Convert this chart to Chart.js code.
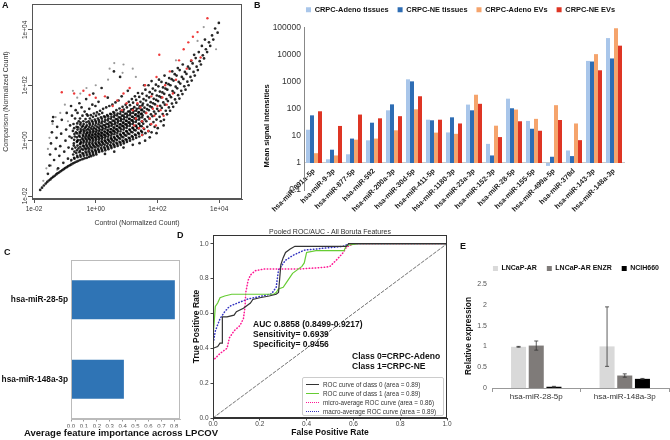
<!DOCTYPE html>
<html>
<head>
<meta charset="utf-8">
<script src="https://cdn.jsdelivr.net/npm/chart.js@4.4.1/dist/chart.umd.min.js"></script>
<style>
  body { margin: 0; width: 670px; height: 440px; background: #fff; position: relative; overflow: hidden;
         font-family: "Liberation Sans", Arial, sans-serif; color: #111; }
  canvas { position: absolute; }
  .t { position: absolute; white-space: nowrap; line-height: 1; }
  .b { font-weight: bold; }
  #legD { position: absolute; left: 302px; top: 377px; width: 140px; height: 37px; border: 1px solid #ccc;
          border-radius: 2px; background: rgba(255,255,255,0.85); }
  #legD .row { position: absolute; left: 0; width: 140px; height: 9px; font-size: 6.3px; line-height: 9px; color: #333; white-space: nowrap; }
  #legD .ln { position: absolute; left: 3px; top: 4px; width: 13px; height: 0; }
  #legD .tx { position: absolute; left: 20px; top: 0; }
</style>
</head>
<body>
<canvas id="cA" width="250" height="232" style="left:0;top:0"></canvas>
<canvas id="cB" width="448" height="215" style="left:222px;top:0"></canvas>
<canvas id="cC" width="242" height="200" style="left:0;top:240px"></canvas>
<canvas id="cD" width="280" height="218" style="left:180px;top:222px"></canvas>
<canvas id="cE" width="215" height="160" style="left:455px;top:255px"></canvas>

<div class="t b" style="left:2px;top:1px;font-size:9px">A</div>
<div class="t b" style="left:254px;top:1px;font-size:9px">B</div>
<div class="t b" style="left:4px;top:248px;font-size:9px">C</div>
<div class="t b" style="left:177px;top:231px;font-size:9px">D</div>
<div class="t b" style="left:460px;top:242px;font-size:9px">E</div>

<div class="t" style="left:330px;top:227.5px;font-size:7px;color:#333;transform:translateX(-50%)">Pooled ROC/AUC - All Boruta Features</div>
<div class="t b" style="left:253px;top:319.5px;font-size:8.5px">AUC 0.8858 (0.8499-0.9217)</div>
<div class="t b" style="left:253px;top:329.5px;font-size:8.5px">Sensitivity= 0.6939</div>
<div class="t b" style="left:253px;top:339.5px;font-size:8.5px">Specificity= 0.9456</div>
<div class="t b" style="left:352px;top:351.5px;font-size:8.5px">Class 0=CRPC-Adeno</div>
<div class="t b" style="left:352px;top:361.5px;font-size:8.5px">Class 1=CRPC-NE</div>

<div id="legD">
  <div class="row" style="top:1.5px"><span class="ln" style="border-top:1.2px solid #333"></span><span class="tx">ROC curve of class 0 (area = 0.89)</span></div>
  <div class="row" style="top:10.5px"><span class="ln" style="border-top:1.2px solid #66cc33"></span><span class="tx">ROC curve of class 1 (area = 0.89)</span></div>
  <div class="row" style="top:19.5px"><span class="ln" style="border-top:1.6px dotted #ff1493"></span><span class="tx">micro-average ROC curve (area = 0.86)</span></div>
  <div class="row" style="top:28.5px"><span class="ln" style="border-top:1.6px dotted #3333c0"></span><span class="tx">macro-average ROC curve (area = 0.89)</span></div>
</div>

<script>
// ---------- A: scatter, log10(control), log10(comparison) ----------
const aTickVals = [0.01, 1, 100, 10000];
const aTickLabels = ['1e-02', '1e+00', '1e+02', '1e+04'];

const blackPts = [
  [-1.80,-1.78],[-1.74,-1.70],[-1.68,-1.62],[-1.62,-1.55],[-1.57,-1.49],[-1.52,-1.44],[-1.47,-1.40],[-1.43,-1.35],
  [-1.38,-1.31],[-1.33,-1.27],[-1.28,-1.22],[-1.24,-1.18],[-1.19,-1.15],[-1.14,-1.11],[-1.09,-1.07],[-1.04,-1.03],
  [-0.99,-0.99],[-0.94,-0.96],[-0.89,-0.92],[-0.84,-0.89],[-0.79,-0.86],[-0.73,-0.82],[-0.68,-0.79],[-0.62,-0.76],
  [-0.56,-0.73],[-0.50,-0.70],[-0.43,-0.67],[-0.36,-0.64],[-0.29,-0.62],[-0.22,-0.59],[-0.15,-0.56],[-0.07,-0.53],[0.02,-0.50],
  [-1.55,-1.20],[-1.50,-0.90],[-1.48,-0.50],[-1.45,-0.10],[-1.42,0.30],[-1.40,0.70],[-1.38,0.85],[-1.35,-0.70],
  [-1.30,-0.30],[-1.27,0.10],[-1.25,0.50],[-1.22,-1.00],[-1.18,-0.55],[-1.15,-0.20],[-1.12,0.25],[-1.10,0.75],
  [-1.05,-0.80],[-1.02,-0.40],[-0.98,0.00],[-0.96,0.40],[-0.94,1.00],[-0.90,-0.65],[-0.88,-0.25],[-0.85,0.15],
  [-0.83,0.55],[-0.80,1.25],
  [-0.79,-0.70],[-0.73,-0.50],[-0.76,-0.30],[-0.71,-0.10],[-0.78,0.10],[-0.74,0.35],[-0.72,0.60],[-0.77,0.90],
  [-0.69,-0.65],[-0.63,-0.45],[-0.66,-0.25],[-0.61,-0.05],[-0.68,0.15],[-0.64,0.30],[-0.62,0.50],[-0.67,0.80],[-0.65,1.10],
  [-0.59,-0.60],[-0.53,-0.42],[-0.56,-0.28],[-0.51,-0.12],[-0.58,0.02],[-0.54,0.18],[-0.52,0.32],[-0.57,0.48],[-0.55,0.70],[-0.59,1.00],[-0.53,1.35],
  [-0.49,-0.58],[-0.43,-0.45],[-0.46,-0.30],[-0.41,-0.18],[-0.48,-0.05],[-0.44,0.08],[-0.42,0.20],[-0.47,0.35],[-0.45,0.50],[-0.49,0.65],[-0.43,0.90],[-0.46,1.20],
  [-0.39,-0.55],[-0.33,-0.40],[-0.36,-0.27],[-0.31,-0.14],[-0.38,-0.02],[-0.34,0.10],[-0.32,0.22],[-0.37,0.34],[-0.35,0.46],[-0.39,0.60],[-0.33,0.78],[-0.36,1.05],[-0.31,1.50],
  [-0.29,-0.52],[-0.23,-0.38],[-0.26,-0.25],[-0.21,-0.12],[-0.28,0.00],[-0.24,0.10],[-0.22,0.20],[-0.27,0.30],[-0.25,0.42],[-0.29,0.55],[-0.23,0.70],[-0.26,0.90],[-0.21,1.15],
  [-0.19,-0.50],[-0.13,-0.36],[-0.16,-0.23],[-0.11,-0.10],[-0.18,0.02],[-0.14,0.12],[-0.12,0.22],[-0.17,0.32],[-0.15,0.44],[-0.19,0.57],[-0.13,0.72],[-0.16,0.92],[-0.11,1.30],
  [-0.09,-0.47],[-0.03,-0.33],[-0.06,-0.20],[-0.01,-0.08],[-0.08,0.04],[-0.04,0.14],[-0.02,0.24],[-0.07,0.34],[-0.05,0.46],[-0.09,0.60],[-0.03,0.76],[-0.06,0.98],[-0.01,1.25],[-0.08,1.70],
  [0.01,-0.44],[0.07,-0.30],[0.04,-0.17],[0.09,-0.05],[0.02,0.06],[0.06,0.16],[0.08,0.26],[0.03,0.37],[0.05,0.50],[0.01,0.64],[0.07,0.80],[0.04,1.02],[0.09,1.40],
  [0.11,-0.41],[0.17,-0.27],[0.14,-0.14],[0.19,-0.02],[0.12,0.09],[0.16,0.19],[0.18,0.29],[0.13,0.40],[0.15,0.53],[0.11,0.67],[0.17,0.84],[0.14,1.08],[0.19,1.90],
  [0.21,-0.38],[0.27,-0.24],[0.24,-0.11],[0.29,0.01],[0.22,0.12],[0.26,0.22],[0.28,0.33],[0.23,0.44],[0.25,0.56],[0.21,0.70],[0.27,0.88],[0.24,1.15],
  [0.31,-0.35],[0.37,-0.20],[0.34,-0.07],[0.39,0.05],[0.32,0.16],[0.36,0.27],[0.38,0.38],[0.33,0.49],[0.35,0.61],[0.31,0.75],[0.37,0.92],[0.34,1.20],[0.39,1.55],
  [0.41,-0.31],[0.47,-0.16],[0.44,-0.03],[0.49,0.09],[0.42,0.20],[0.46,0.31],[0.48,0.42],[0.43,0.54],[0.45,0.66],[0.41,0.80],[0.47,0.97],[0.44,1.25],
  [0.51,-0.27],[0.57,-0.12],[0.54,0.01],[0.59,0.13],[0.52,0.25],[0.56,0.36],[0.58,0.47],[0.53,0.59],[0.55,0.72],[0.51,0.86],[0.57,1.03],[0.54,1.30],[0.59,2.50],
  [0.61,-0.23],[0.67,-0.08],[0.64,0.05],[0.69,0.18],[0.62,0.30],[0.66,0.41],[0.68,0.53],[0.63,0.65],[0.65,0.78],[0.61,0.92],[0.67,1.10],[0.64,1.38],
  [0.71,-0.19],[0.77,-0.04],[0.74,0.10],[0.79,0.23],[0.72,0.35],[0.76,0.47],[0.78,0.59],[0.73,0.71],[0.75,0.84],[0.71,0.98],[0.77,1.16],[0.74,1.45],[0.79,2.30],
  [0.81,-0.15],[0.87,0.00],[0.84,0.15],[0.89,0.28],[0.82,0.41],[0.86,0.53],[0.88,0.65],[0.83,0.77],[0.85,0.90],[0.81,1.05],[0.87,1.22],[0.84,1.60],
  [0.91,-0.10],[0.97,0.05],[0.94,0.20],[0.99,0.34],[0.92,0.47],[0.96,0.59],[0.98,0.71],[0.93,0.84],[0.95,0.97],[0.91,1.12],[0.97,1.30],
  [1.01,-0.05],[1.07,0.10],[1.04,0.26],[1.09,0.40],[1.02,0.53],[1.06,0.65],[1.08,0.78],[1.03,0.91],[1.05,1.05],[1.01,1.20],[1.07,1.40],[1.04,1.80],
  [1.11,0.00],[1.17,0.16],[1.14,0.32],[1.19,0.46],[1.12,0.60],[1.16,0.73],[1.18,0.86],[1.13,0.99],[1.15,1.13],[1.11,1.28],[1.17,1.50],
  [1.21,0.05],[1.27,0.22],[1.24,0.39],[1.29,0.53],[1.22,0.67],[1.26,0.80],[1.28,0.93],[1.23,1.07],[1.25,1.21],[1.21,1.37],[1.27,1.60],
  [1.31,0.10],[1.37,0.28],[1.34,0.46],[1.39,0.61],[1.32,0.75],[1.36,0.88],[1.38,1.01],[1.33,1.15],[1.35,1.30],[1.31,1.47],[1.37,1.72],
  [1.41,0.15],[1.47,0.35],[1.44,0.53],[1.49,0.69],[1.42,0.83],[1.46,0.96],[1.48,1.10],[1.43,1.24],[1.45,1.40],[1.41,1.58],
  [1.51,0.21],[1.57,0.42],[1.54,0.61],[1.59,0.77],[1.52,0.91],[1.56,1.05],[1.58,1.19],[1.53,1.34],[1.55,1.50],[1.51,1.70],[1.57,2.00],
  [1.61,0.27],[1.67,0.50],[1.64,0.70],[1.69,0.86],[1.62,1.00],[1.66,1.14],[1.68,1.29],[1.63,1.45],[1.65,1.62],[1.61,1.84],
  [1.71,0.34],[1.77,0.58],[1.74,0.79],[1.79,0.95],[1.72,1.10],[1.76,1.24],[1.78,1.39],[1.73,1.56],[1.75,1.75],[1.71,2.00],
  [1.81,0.30],[1.87,0.67],[1.84,0.88],[1.89,1.05],[1.82,1.20],[1.86,1.35],[1.88,1.51],[1.83,1.68],[1.85,1.88],[1.81,2.15],
  [1.91,0.50],[1.97,0.76],[1.94,0.97],[1.99,1.15],[1.92,1.31],[1.96,1.47],[1.98,1.63],[1.93,1.81],[1.95,2.02],
  [2.01,0.45],[2.07,0.86],[2.04,1.07],[2.09,1.26],[2.02,1.43],[2.06,1.60],[2.08,1.77],[2.03,1.96],[2.05,2.20],
  [2.11,0.70],[2.17,0.96],[2.14,1.18],[2.19,1.38],[2.12,1.56],[2.16,1.74],[2.18,1.92],[2.13,2.12],
  [2.21,0.75],[2.27,1.08],[2.24,1.30],[2.29,1.50],[2.22,1.69],[2.26,1.88],[2.28,2.08],[2.23,2.35],
  [2.31,0.95],[2.37,1.20],[2.34,1.43],[2.39,1.64],[2.32,1.84],[2.36,2.04],[2.38,2.26],
  [2.41,1.08],[2.47,1.34],[2.44,1.57],[2.49,1.79],[2.42,2.00],[2.46,2.22],[2.48,2.50],
  [2.51,1.22],[2.57,1.49],[2.54,1.73],[2.59,1.95],[2.52,2.17],[2.56,2.40],
  [2.61,1.37],[2.67,1.64],[2.64,1.89],[2.69,2.12],[2.62,2.35],[2.66,2.62],
  [2.71,1.52],[2.77,1.80],[2.74,2.06],[2.79,2.30],[2.72,2.55],
  [2.81,1.68],[2.87,1.96],[2.84,2.23],[2.89,2.48],[2.82,2.75],
  [2.91,1.84],[2.97,2.13],[2.94,2.41],[2.99,2.67],
  [3.01,2.00],[3.07,2.30],[3.04,2.60],[3.09,2.88],
  [3.11,2.17],[3.17,2.48],[3.14,2.79],[3.19,3.10],
  [3.21,2.35],[3.27,2.67],[3.24,2.98],
  [3.31,2.55],[3.37,2.87],[3.34,3.20],
  [3.41,2.75],[3.47,3.08],[3.44,3.42],
  [3.51,2.97],[3.57,3.30],[3.54,3.65],
  [3.61,3.20],[3.67,3.55],[3.71,3.42],[3.77,3.80],[3.81,3.65],[3.87,4.05],[3.95,3.90],[3.99,4.25],
  [1.20,-0.15],[1.42,-0.09],[1.60,0.00],[1.75,0.12],[1.97,0.27],[2.20,0.55],[0.90,-0.25],[0.60,-0.40],[0.30,-0.48],
  // denser core, between the points above
  [-0.70,-0.62],[-0.69,-0.40],[-0.71,-0.18],[-0.70,0.03],[-0.69,0.24],[-0.70,0.45],
  [-0.60,-0.55],[-0.61,-0.35],[-0.59,-0.18],[-0.60,-0.02],[-0.61,0.12],[-0.60,0.26],[-0.59,0.40],[-0.60,0.62],
  [-0.50,-0.52],[-0.51,-0.37],[-0.50,-0.22],[-0.49,-0.10],[-0.50,0.02],[-0.51,0.14],[-0.50,0.27],[-0.49,0.42],[-0.50,0.58],[-0.51,0.80],
  [-0.40,-0.48],[-0.41,-0.33],[-0.39,-0.20],[-0.40,-0.08],[-0.41,0.04],[-0.40,0.16],[-0.39,0.28],[-0.40,0.40],[-0.41,0.53],[-0.40,0.70],
  [-0.30,-0.45],[-0.31,-0.31],[-0.29,-0.19],[-0.30,-0.07],[-0.31,0.05],[-0.30,0.16],[-0.29,0.27],[-0.30,0.38],[-0.31,0.50],[-0.30,0.66],[-0.29,0.95],
  [-0.20,-0.44],[-0.21,-0.30],[-0.19,-0.18],[-0.20,-0.06],[-0.21,0.06],[-0.20,0.16],[-0.19,0.26],[-0.20,0.37],[-0.21,0.49],[-0.20,0.63],[-0.19,0.80],
  [-0.10,-0.41],[-0.11,-0.27],[-0.09,-0.15],[-0.10,-0.03],[-0.11,0.09],[-0.10,0.19],[-0.09,0.29],[-0.10,0.40],[-0.11,0.52],[-0.10,0.67],[-0.09,0.86],
  [0.00,-0.38],[-0.01,-0.24],[0.01,-0.12],[0.00,0.00],[-0.01,0.11],[0.00,0.21],[0.01,0.31],[0.00,0.42],[-0.01,0.55],[0.00,0.70],[0.01,0.90],
  [0.10,-0.35],[0.09,-0.21],[0.11,-0.09],[0.10,0.03],[0.09,0.14],[0.10,0.24],[0.11,0.34],[0.10,0.46],[0.09,0.59],[0.10,0.74],[0.11,0.95],
  [0.20,-0.32],[0.19,-0.18],[0.21,-0.06],[0.20,0.06],[0.19,0.17],[0.20,0.27],[0.21,0.38],[0.20,0.50],[0.19,0.63],[0.20,0.79],[0.21,1.00],
  [0.30,-0.29],[0.29,-0.15],[0.31,-0.02],[0.30,0.10],[0.29,0.21],[0.30,0.32],[0.31,0.43],[0.30,0.55],[0.29,0.68],[0.30,0.84],
  [0.40,-0.25],[0.39,-0.11],[0.41,0.02],[0.40,0.14],[0.39,0.25],[0.40,0.36],[0.41,0.48],[0.40,0.60],[0.39,0.73],[0.40,0.88],
  [0.50,-0.21],[0.49,-0.07],[0.51,0.06],[0.50,0.18],[0.49,0.30],[0.50,0.41],[0.51,0.53],[0.50,0.65],[0.49,0.79],[0.50,0.95],
  [0.60,-0.17],[0.59,-0.03],[0.61,0.10],[0.60,0.23],[0.59,0.35],[0.60,0.47],[0.61,0.59],[0.60,0.71],[0.59,0.85],[0.60,1.00],
  [0.70,-0.12],[0.69,0.02],[0.71,0.15],[0.70,0.28],[0.69,0.41],[0.70,0.53],[0.71,0.65],[0.70,0.77],[0.69,0.91],
  [0.80,-0.08],[0.79,0.07],[0.81,0.20],[0.80,0.33],[0.79,0.47],[0.80,0.59],[0.81,0.71],[0.80,0.83],[0.79,0.97],
  [0.90,-0.03],[0.89,0.12],[0.91,0.26],[0.90,0.40],[0.89,0.53],[0.90,0.65],[0.91,0.77],[0.90,0.90],[0.89,1.04],
  [1.00,0.02],[0.99,0.18],[1.01,0.33],[1.00,0.46],[0.99,0.59],[1.00,0.71],[1.01,0.84],[1.00,0.98],
  [1.10,0.08],[1.09,0.24],[1.11,0.39],[1.10,0.53],[1.09,0.66],[1.10,0.79],[1.11,0.92],[1.10,1.06],
  [1.20,0.13],[1.19,0.30],[1.21,0.46],[1.20,0.60],[1.19,0.73],[1.20,0.86],[1.21,1.00],[1.20,1.14],
  [1.30,0.19],[1.29,0.37],[1.31,0.53],[1.30,0.68],[1.29,0.81],[1.30,0.95],[1.31,1.08],
  [1.40,0.25],[1.39,0.44],[1.41,0.61],[1.40,0.76],[1.39,0.90],[1.40,1.03],[1.41,1.17],
  [1.50,0.31],[1.49,0.52],[1.51,0.69],[1.50,0.84],[1.49,0.98],[1.50,1.12],[1.51,1.27]
];

const greyPts = [
  [-1.60,-1.00],[-1.55,-0.30],[-1.50,0.10],[-1.45,-0.90],[-1.40,0.60],[-1.30,0.85],[-1.15,1.00],[-1.00,1.30],
  [-0.90,0.70],[-0.74,1.80],[-0.60,1.55],[-0.50,1.70],[-0.30,1.90],[0.00,2.00],[0.40,2.20],[0.45,2.60],
  [0.60,2.80],[0.87,2.45],[0.90,2.75],[1.20,2.60],[1.30,2.30],[2.60,2.90],[3.30,3.60],[3.50,4.10],
  [3.90,3.30],[-0.80,-0.75],[-1.70,-1.45],[-1.25,-1.05]
];

const redPts = [
  [3.62,4.42],[3.30,3.92],[3.15,3.75],[3.00,3.55],[2.85,3.30],[2.95,2.60],[2.70,2.90],[3.40,3.00],
  [2.60,2.20],[2.40,2.50],[2.06,3.10],[1.97,2.30],[2.16,1.56],[2.30,1.30],[2.10,1.10],[1.90,0.90],
  [1.80,0.60],[1.64,1.00],[1.50,0.70],[1.40,0.45],[1.70,0.35],[1.20,1.10],[1.30,0.80],[0.70,1.45],
  [0.90,1.70],[1.10,1.90],[-0.40,1.80],[-0.20,1.65],[0.00,1.55],[-0.70,1.70],[-1.10,1.75],[0.30,1.60],
  [1.60,2.00],[1.80,1.60],[2.00,1.25],[2.50,1.70],[1.50,0.20],[1.25,0.55],[2.20,0.90],[3.10,2.90],
  [1.45,1.20],[1.75,0.80],[1.85,1.15],[1.35,1.35],[2.25,2.00],[0.55,1.25],[0.85,1.10],[1.00,1.35],
  [1.55,0.45],[1.95,0.55]
];

// ---------- B: mean signal intensities ----------
const bMirnas = ['hsa-miR-891a-5p', 'hsa-miR-9-3p', 'hsa-miR-877-5p', 'hsa-miR-592', 'hsa-miR-200a-3p',
  'hsa-miR-30d-5p', 'hsa-miR-411-5p', 'hsa-miR-1180-3p', 'hsa-miR-23a-3p', 'hsa-miR-152-3p',
  'hsa-miR-28-5p', 'hsa-miR-155-5p', 'hsa-miR-499a-5p', 'hsa-miR-378d', 'hsa-miR-143-3p', 'hsa-miR-148a-3p'];
const adenoTissues = [17, 1.37, 2.1, 6.9, 89, 1250, 40, 13.5, 145, 5.1, 240, 36, 0.78, 2.9, 6000, 42000];
const neTissues    = [58, 3.1, 8, 31, 148, 1050, 38, 49, 89, 1.9, 106, 18.5, 1.7, 1.8, 5700, 7400];
const adenoEVs     = [2.3, 1.9, 7.3, 8, 16.2, 97, 13.3, 12, 336, 24, 95, 43, 138, 29, 10700, 97000];
const neEVs        = [82, 23.5, 62, 45, 54, 295, 40, 29, 155, 9.1, 35, 15.6, 39, 7, 2700, 22000];
const bTicks = [0.1, 1, 10, 100, 1000, 10000, 100000];
const bTickLabels = ['0.1', '1', '10', '100', '1000', '10000', '100000'];

// ---------- C: feature importance ----------
const cFeatures = ['hsa-miR-28-5p', 'hsa-miR-148a-3p'];
const cImportance = [0.805, 0.41];
const cTicks = [0, 0.1, 0.2, 0.3, 0.4, 0.5, 0.6, 0.7, 0.8];

// ---------- D: ROC curves ----------
const class0Fpr = [0, 0, 0.02, 0.03, 0.04, 0.04, 0.06, 0.09, 0.10, 0.13, 0.14, 0.16, 0.17, 0.20, 0.24, 0.27, 0.28, 0.285, 0.29, 0.30, 0.31, 0.33, 0.35, 0.57, 0.58, 1.0];
const class0Tpr = [0, 0.40, 0.41, 0.43, 0.43, 0.58, 0.58, 0.59, 0.61, 0.63, 0.64, 0.66, 0.68, 0.69, 0.70, 0.71, 0.72, 0.80, 0.88, 0.92, 0.95, 0.97, 0.985, 0.985, 1.0, 1.0];
const class1Fpr = [0, 0, 0.005, 0.01, 0.02, 0.03, 0.05, 0.08, 0.26, 0.27, 0.28, 0.30, 0.32, 0.34, 0.36, 0.38, 0.39, 0.40, 0.44, 0.56, 0.57, 0.62, 1.0];
const class1Tpr = [0, 0.47, 0.55, 0.64, 0.66, 0.69, 0.70, 0.71, 0.71, 0.72, 0.74, 0.75, 0.79, 0.83, 0.85, 0.87, 0.89, 0.95, 0.96, 0.96, 0.99, 1.0, 1.0];
const microFpr = [0, 0, 0.03, 0.06, 0.07, 0.09, 0.115, 0.13, 0.137, 0.14, 0.15, 0.16, 0.18, 0.22, 0.37, 0.48, 0.50, 0.53, 0.557, 0.57, 0.60, 1.0];
const microTpr = [0, 0.33, 0.37, 0.40, 0.46, 0.50, 0.53, 0.57, 0.64, 0.72, 0.79, 0.82, 0.845, 0.855, 0.855, 0.865, 0.87, 0.91, 0.95, 0.98, 1.0, 1.0];
const macroFpr = [0, 0, 0.01, 0.03, 0.05, 0.07, 0.094, 0.15, 0.25, 0.27, 0.28, 0.31, 0.343, 0.39, 0.48, 0.557, 0.58, 1.0];
const macroTpr = [0, 0.42, 0.50, 0.57, 0.61, 0.64, 0.654, 0.683, 0.712, 0.75, 0.85, 0.905, 0.934, 0.963, 0.975, 0.985, 1.0, 1.0];
const diagFpr = [0, 1];
const diagTpr = [0, 1];
const dTicks = [0, 0.2, 0.4, 0.6, 0.8, 1.0];

// ---------- E: relative expression ----------
const eGenes = ['hsa-miR-28-5p', 'hsa-miR-148a-3p'];
const lncapAR = [0.99, 1.0];
const lncapENZR = [1.02, 0.30];
const ncih660 = [0.03, 0.22];
const arErrHi = [0.01, 0.95];
const arErrLo = [0.01, 0.48];
const enzrErr = [0.11, 0.04];
const nciErr = [0.01, 0.01];
const eTicks = [0, 0.5, 1, 1.5, 2, 2.5];
const eTickLabels = ['0', '0.5', '1', '1.5', '2', '2.5'];

// ---------- shared ----------
const FONT = '"Liberation Sans", Arial, sans-serif';
Chart.defaults.font.family = FONT;
Chart.defaults.animation = false;
Chart.defaults.events = [];
Chart.defaults.plugins.legend.display = false;
Chart.defaults.plugins.tooltip.enabled = false;

const setTicks = vals => s => { s.ticks = vals.map(v => ({ value: v })); };

// empty axis used only to reserve room next to the plot
const spacer = (axis, position, size) => ({
  axis, type: 'category', position,
  afterFit: s => { if (axis === 'x') s.height = size; else s.width = size; },
  grid: { display: false, drawTicks: false }, border: { display: false }, ticks: { display: false }
});

function frame(color) {
  return {
    id: 'frame',
    afterDraw(chart) {
      const a = chart.chartArea, ctx = chart.ctx;
      ctx.save();
      ctx.strokeStyle = color;
      ctx.lineWidth = 1;
      ctx.strokeRect(Math.round(a.left) + 0.5, Math.round(a.top) + 0.5,
        Math.round(a.right - a.left) - 1, Math.round(a.bottom - a.top) - 1);
      ctx.restore();
    }
  };
}

// R style: y tick labels parallel to the axis
const rotatedYLabels = {
  id: 'rotY',
  afterDraw(chart) {
    const s = chart.scales.y, ctx = chart.ctx;
    ctx.save();
    ctx.fillStyle = '#333';
    ctx.font = '6.5px ' + FONT;
    ctx.textAlign = 'center';
    ctx.textBaseline = 'middle';
    s.ticks.forEach((t, i) => {
      ctx.save();
      ctx.translate(s.right - 7, s.getPixelForValue(t.value));
      ctx.rotate(-Math.PI / 2);
      ctx.fillText(aTickLabels[i], 0, 0);
      ctx.restore();
    });
    ctx.restore();
  }
};

const toPts = arr => arr.map(([lx, ly]) => ({ x: Math.pow(10, lx), y: Math.pow(10, ly) }));

// ---------- A ----------
new Chart(document.getElementById('cA'), {
  type: 'scatter',
  data: {
    datasets: [
      { data: toPts(redPts), backgroundColor: '#ee3b3b', pointRadius: 1.2, borderWidth: 0 },
      { data: toPts(blackPts), backgroundColor: 'rgba(0,0,0,0.85)', pointRadius: 1.35, borderWidth: 0 },
      { data: toPts(greyPts), backgroundColor: '#9a9a9a', pointRadius: 1.1, borderWidth: 0 }
    ]
  },
  options: {
    responsive: false,
    layout: { padding: { top: 3, right: 8, left: 0, bottom: 0 } },
    scales: {
      x: {
        type: 'logarithmic', min: 0.0086, max: 55000,
        afterBuildTicks: setTicks(aTickVals),
        afterFit: s => { s.height = 33; },
        ticks: { callback: (v, i) => aTickLabels[i], font: { size: 6.5 }, color: '#333', padding: 2, maxRotation: 0, autoSkip: false },
        grid: { drawOnChartArea: false, tickLength: 4, color: '#555' },
        border: { color: '#555' },
        title: { display: true, text: 'Control (Normalized Count)', font: { size: 7 }, color: '#333', padding: { top: 0, bottom: 4.5 } }
      },
      y: {
        type: 'logarithmic', min: 0.0078, max: 86000,
        afterBuildTicks: setTicks(aTickVals),
        afterFit: s => { s.width = 32; },
        ticks: { display: false },
        grid: { drawOnChartArea: false, tickLength: 4, color: '#555' },
        border: { color: '#555' },
        title: { display: true, text: 'Comparison (Normalized Count)', font: { size: 7 }, color: '#333', padding: { top: 1.5, bottom: 0 } }
      }
    }
  },
  plugins: [frame('#555'), rotatedYLabels]
});

// ---------- B ----------
new Chart(document.getElementById('cB'), {
  type: 'bar',
  data: {
    labels: bMirnas,
    datasets: [
      { label: 'CRPC-Adeno tissues', data: adenoTissues, backgroundColor: '#a9c6ea' },
      { label: 'CRPC-NE tissues', data: neTissues, backgroundColor: '#2e6db4' },
      { label: 'CRPC-Adeno EVs', data: adenoEVs, backgroundColor: '#f5a46c' },
      { label: 'CRPC-NE EVs', data: neEVs, backgroundColor: '#de3524' }
    ]
  },
  options: {
    responsive: false,
    layout: { padding: { top: -3, right: 46, bottom: 25, left: 0 } },
    datasets: { bar: { base: 1, categoryPercentage: 0.8, barPercentage: 1, borderWidth: 0 } },
    plugins: {
      legend: {
        display: true, position: 'top', align: 'end',
        labels: { boxWidth: 5, boxHeight: 5, padding: 9, color: '#111', font: { size: 7.4, weight: 'bold' } }
      }
    },
    scales: {
      x: {
        position: { y: 1 },
        grid: { display: false, drawTicks: false },
        border: { color: '#c8c8c8' },
        ticks: { autoSkip: false, maxRotation: 45, minRotation: 45, padding: 4, font: { size: 7.2, weight: 'bold' }, color: '#222' }
      },
      xTop: spacer('x', 'top', 4.5),
      y: {
        type: 'logarithmic', min: 0.1, max: 100000,
        afterBuildTicks: setTicks(bTicks),
        afterFit: s => { s.width = 82; },
        ticks: { callback: (v, i) => bTickLabels[i], font: { size: 8.5 }, color: '#333', padding: 3 },
        grid: { display: false, drawTicks: false },
        border: { color: '#888' },
        title: {
          display: true, text: 'Mean signal intensities' + '\u00a0'.repeat(16),
          font: { size: 7.6, weight: 'bold' }, color: '#111', padding: { top: 40, bottom: 0 }
        }
      }
    }
  }
});

// ---------- C ----------
new Chart(document.getElementById('cC'), {
  type: 'bar',
  data: {
    labels: cFeatures,
    datasets: [{ data: cImportance, backgroundColor: '#2f74b5', barPercentage: 0.49, categoryPercentage: 1 }]
  },
  options: {
    indexAxis: 'y',
    responsive: false,
    layout: { padding: { top: 20, right: 0, left: 0, bottom: 0 } },
    plugins: {
      title: {
        display: true, position: 'bottom', text: 'Average feature importance across LPCOV',
        font: { size: 9.5, weight: 'bold' }, color: '#111', padding: { top: 0, bottom: 1 }
      }
    },
    scales: {
      x: {
        min: 0, max: 0.845,
        afterBuildTicks: setTicks(cTicks),
        afterFit: s => { s.height = 8.6; },
        ticks: { callback: v => v.toFixed(1), font: { size: 6 }, color: '#555', padding: 1, maxRotation: 0, autoSkip: false },
        grid: { drawOnChartArea: false, tickLength: 2.5, color: '#999' },
        border: { color: '#bbb' }
      },
      y: {
        afterFit: s => { s.width = 71; },
        ticks: { font: { size: 8.3, weight: 'bold' }, color: '#111', padding: 3 },
        grid: { display: false, drawTicks: false },
        border: { color: '#bbb' }
      },
      yRight: spacer('y', 'right', 62)
    }
  },
  plugins: [frame('#bbb')]
});

// ---------- D ----------
const rocSet = (xs, ys, color, width, dash) => ({
  data: xs.map((x, i) => ({ x, y: ys[i] })),
  borderColor: color, borderWidth: width, borderDash: dash, borderCapStyle: dash.length ? 'round' : 'butt',
  showLine: true, pointRadius: 0, fill: false, tension: 0
});

new Chart(document.getElementById('cD'), {
  type: 'scatter',
  data: {
    datasets: [
      rocSet(class0Fpr, class0Tpr, '#333333', 1.2, []),
      rocSet(class1Fpr, class1Tpr, '#66cc33', 1.2, []),
      rocSet(microFpr, microTpr, '#ff1493', 1.5, [0.5, 2.5]),
      rocSet(macroFpr, macroTpr, '#3333c0', 1.5, [0.5, 2.5]),
      rocSet(diagFpr, diagTpr, '#333333', 0.7, [3, 2])
    ]
  },
  options: {
    responsive: false,
    layout: { padding: { top: 13, right: 13, left: 0, bottom: 0 } },
    scales: {
      x: {
        type: 'linear', min: 0, max: 1,
        afterBuildTicks: setTicks(dTicks),
        afterFit: s => { s.height = 22; },
        ticks: { callback: v => v.toFixed(1), font: { size: 6.5 }, color: '#444', padding: 0, maxRotation: 0, autoSkip: false },
        grid: { drawOnChartArea: false, tickLength: 2.5, color: '#444' },
        border: { color: '#333' },
        title: { display: true, text: 'False Positive Rate', font: { size: 8.5, weight: 'bold' }, color: '#111', padding: { top: 0, bottom: 2.2 } }
      },
      y: {
        type: 'linear', min: 0, max: 1.05,
        afterBuildTicks: setTicks(dTicks),
        afterFit: s => { s.width = 33; },
        ticks: { callback: v => v.toFixed(1), font: { size: 6.5 }, color: '#444', padding: 2 },
        grid: { drawOnChartArea: false, tickLength: 2.5, color: '#444' },
        border: { color: '#333' },
        title: { display: true, text: 'True Positive Rate', font: { size: 8.5, weight: 'bold' }, color: '#111', padding: { top: 11.6, bottom: 0 } }
      }
    }
  },
  plugins: [frame('#333')]
});

// ---------- E ----------
const errorBars = {
  id: 'errorBars',
  afterDatasetsDraw(chart) {
    const ctx = chart.ctx, ys = chart.scales.y;
    const errs = [[arErrHi, arErrLo], [enzrErr, enzrErr], [nciErr, nciErr]];
    ctx.save();
    ctx.strokeStyle = '#333';
    ctx.lineWidth = 0.8;
    errs.forEach(([hi, lo], di) => {
      const vals = chart.data.datasets[di].data;
      chart.getDatasetMeta(di).data.forEach((bar, i) => {
        const yT = ys.getPixelForValue(vals[i] + hi[i]);
        const yB = ys.getPixelForValue(vals[i] - lo[i]);
        ctx.beginPath();
        ctx.moveTo(bar.x, yT); ctx.lineTo(bar.x, yB);
        ctx.moveTo(bar.x - 2, yT); ctx.lineTo(bar.x + 2, yT);
        ctx.moveTo(bar.x - 2, yB); ctx.lineTo(bar.x + 2, yB);
        ctx.stroke();
      });
    });
    ctx.restore();
  }
};

new Chart(document.getElementById('cE'), {
  type: 'bar',
  data: {
    labels: eGenes,
    datasets: [
      { label: 'LNCaP-AR', data: lncapAR, backgroundColor: '#d9d9d9' },
      { label: 'LNCaP-AR ENZR', data: lncapENZR, backgroundColor: '#7f7b79' },
      { label: 'NCIH660', data: ncih660, backgroundColor: '#000000' }
    ]
  },
  options: {
    responsive: false,
    layout: { padding: { top: 0, right: 1, left: 0, bottom: 0 } },
    datasets: { bar: { categoryPercentage: 0.6, barPercentage: 0.85, borderWidth: 0 } },
    plugins: {
      legend: {
        display: true, position: 'top', align: 'end',
        labels: { boxWidth: 5, boxHeight: 5, padding: 10, color: '#111', font: { size: 7, weight: 'bold' } }
      }
    },
    scales: {
      x: {
        afterFit: s => { s.height = 27; },
        grid: { drawOnChartArea: false, tickLength: 4, color: '#999' },
        border: { color: '#999' },
        ticks: { font: { size: 8 }, color: '#333', padding: 0 }
      },
      xTop: spacer('x', 'top', 2),
      y: {
        min: 0, max: 2.5,
        afterBuildTicks: setTicks(eTicks),
        afterFit: s => { s.width = 37; },
        ticks: { callback: (v, i) => eTickLabels[i], font: { size: 7 }, color: '#555', padding: 5 },
        grid: { display: false, drawTicks: false },
        border: { display: false },
        title: { display: true, text: 'Relative expression', font: { size: 8.3, weight: 'bold' }, color: '#111', padding: { top: 8.9, bottom: 0 } }
      }
    }
  },
  plugins: [errorBars]
});
</script>
</body>
</html>
